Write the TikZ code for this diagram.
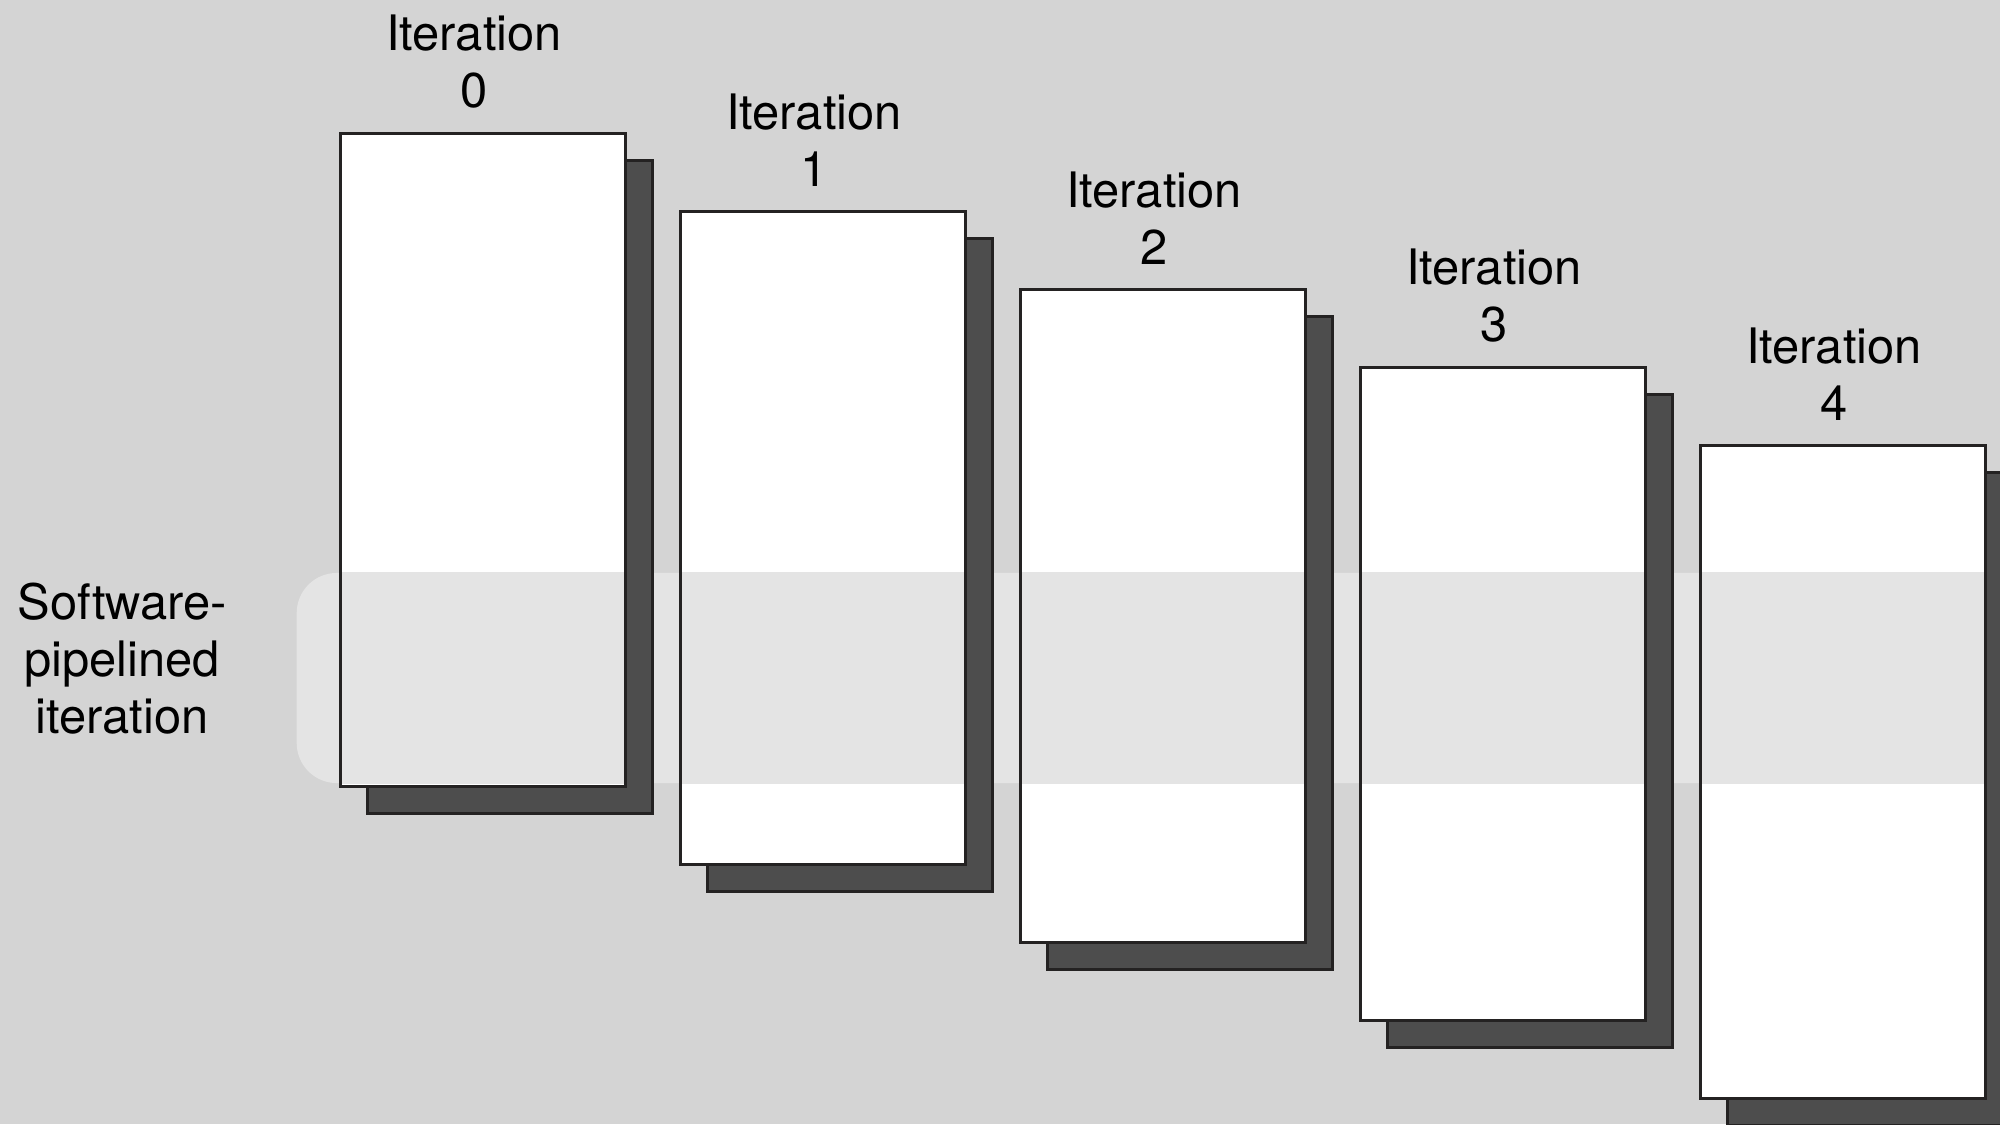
\documentclass[tikz,border=0pt]{standalone}
\usepackage{fontspec}
\setmainfont{TeX Gyre Heros}
\usetikzlibrary{positioning, shadows}

\definecolor{pagebg}{HTML}{D4D4D4}
\definecolor{bandfill}{HTML}{E4E4E4}
\definecolor{shade}{HTML}{4D4D4D}
\definecolor{edge}{HTML}{242222}

\tikzset{
  labeltext/.style={align=center, inner sep=0pt, font=\fontsize{13.9}{16.2}\selectfont},
  iterbox/.style={draw=edge, line width=0.85pt, fill=white, inner sep=0pt,
    minimum width=2.85cm, minimum height=6.52cm,
    copy shadow={shadow xshift=0.27cm, shadow yshift=-0.27cm,
      fill=shade, draw=edge, line width=0.85pt},
    path picture={\fill[bandfill] (path picture bounding box.west |- band.north)
      rectangle (path picture bounding box.east |- band.south);}}
}

\begin{document}
\begin{tikzpicture}[x=0.01cm, y=-0.01cm]
  \fill[pagebg] (0,0) rectangle (2000,1124);
  \useasboundingbox (0,0) rectangle (2000,1124);
  % Pipelined band behind the iterations.
  \node[fill=bandfill, rounded corners=0.4cm, inner sep=0pt, anchor=west,
    minimum width=18cm, minimum height=2.10cm] (band) at (296,678) {};
  \node[labeltext] (pipelabel) at (122,659) {Software-\\pipelined\\iteration};
  % Iterations, each one step lower.
  \foreach \i in {0,...,4} {
    \node[iterbox] (it\i) at ({483+340*\i},{460+78*\i}) {};
    \node[labeltext, above=0.235cm of it\i, xshift=-0.09cm] (lab\i) {Iteration\\\i};
  }
\end{tikzpicture}
\end{document}
